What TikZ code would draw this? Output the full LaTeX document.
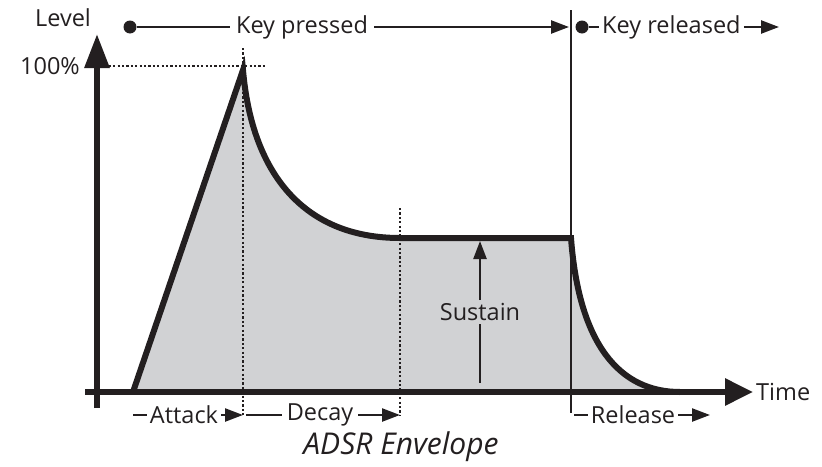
\documentclass[tikz,border=0pt]{standalone}
\usepackage{fontspec}
\setmainfont{Open Sans}
\usetikzlibrary{arrows.meta}
\definecolor{envfill}{HTML}{D1D2D4}
\definecolor{ink}{HTML}{231F20}
\tikzset{
  lbl/.style={font=\fontsize{23.5}{26}\selectfont, text=ink, inner sep=3pt},
  toplbl/.style={lbl, inner xsep=6pt},
  thinline/.style={draw=ink, line width=2.4pt},
  dotline/.style={draw=ink, line width=2.4pt, dash pattern=on 2.2pt off 2.2pt},
  smallarrow/.style={thinline, -{Triangle[length=18pt,width=13pt]}},
  thickline/.style={draw=ink, line width=6pt},
  keydot/.style={circle, fill=ink, inner sep=0pt, minimum size=13pt},
}
\begin{document}
\begin{tikzpicture}[x=1pt,y=-1pt]
\useasboundingbox (0,0) rectangle (822,466);
% key points
\coordinate (a0) at (133,392);
\coordinate (pk) at (243,70);
\coordinate (s0) at (400,238);
\coordinate (s1) at (571,238);
\coordinate (r1) at (680,392);
% fill
\fill[envfill] (a0) -- (pk) .. controls (252,175) and (305,238) .. (s0) -- (s1) .. controls (579,345) and (620,392) .. (r1) -- cycle;
% dotted guides
\coordinate (h0) at (100,66);
\coordinate (h1) at (265,66);
\draw[dotline] (h0) -- (h1);
\coordinate (v0) at (243,48);
\coordinate (v1) at (243,415);
\draw[dotline] (v0) -- (v1);
\coordinate (d0) at (400,208);
\coordinate (d1) at (400,415);
\draw[dotline] (d0) -- (d1);
% release line
\coordinate (rl0) at (571,10);
\coordinate (rl1) at (571,413);
\draw[thinline] (rl0) -- (rl1);
% axes
\coordinate (ya) at (97,408);
\coordinate (yb) at (97,34);
\draw[thickline, -{Triangle[length=34pt,width=24pt]}] (ya) -- (yb);
\coordinate (xa) at (85,392);
\coordinate (xb) at (753,392);
\draw[thickline, -{Triangle[length=28pt,width=26pt]}] (xa) -- (xb);
% envelope
\draw[thickline, line join=miter, miter limit=20] (a0) -- (pk) .. controls (252,175) and (305,238) .. (s0) -- (s1) .. controls (579,345) and (620,392) .. (r1);
% labels
\node[lbl] (level) at (63,18) {Level};
\node[lbl, anchor=east] (pct) at (83,66) {100\%};
\node[lbl, anchor=west] (time) at (753,392) {Time};
% key pressed
\node[keydot] (kd1) at (130,27) {};
\node[toplbl] (kp) at (302,27) {Key pressed};
\coordinate (kpend) at (569,27);
\draw[thinline] (kd1) -- (kp.west);
\draw[smallarrow] (kp.east) -- (kpend);
\node[keydot] (kd2) at (582,27) {};
\node[lbl, anchor=west] (kr) at (599,27) {Key released};
\coordinate (krend) at (779,27);
\draw[thinline] (kd2) -- (kr.west);
\draw[smallarrow] (kr.east) -- (krend);
% sustain
\node[lbl] (sus) at (480,312) {Sustain};
\coordinate (sus0) at (480,383);
\coordinate (sus1) at (480,241);
\draw[thinline] (sus0) -- (sus.south);
\draw[smallarrow] (sus.north) -- (sus1);
% bottom phase labels
\node[lbl] (att) at (184,415) {Attack};
\coordinate (att0) at (133,415);
\coordinate (att1) at (243,415);
\draw[thinline] (att0) -- (att.west);
\draw[smallarrow] (att.east) -- (att1);
\node[lbl, inner xsep=5pt] (dec) at (320,415) {Decay};
\coordinate (dec0) at (246,415);
\coordinate (dec1) at (400,415);
\draw[thinline] (dec0) -- (dec.west);
\draw[smallarrow] (dec.east) -- (dec1);
\node[lbl] (rel) at (633,415) {Release};
\coordinate (rel0) at (574,415);
\coordinate (rel1) at (710,415);
\draw[thinline] (rel0) -- (rel.west);
\draw[smallarrow] (rel.east) -- (rel1);
% title
\node[lbl, font=\fontsize{30}{34}\selectfont\itshape] (title) at (401,447) {ADSR Envelope};
\end{tikzpicture}
\end{document}
